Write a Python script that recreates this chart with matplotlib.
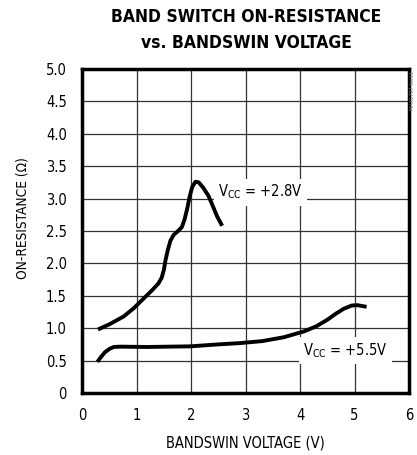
import matplotlib
matplotlib.use('Agg')
import matplotlib.pyplot as plt
from matplotlib import font_manager

names = set(f.name for f in font_manager.fontManager.ttflist)
if 'Liberation Sans Narrow' in names:
    plt.rcParams['font.family'] = ['Liberation Sans Narrow', 'DejaVu Sans']
else:
    plt.rcParams['font.family'] = ['DejaVu Sans']
    plt.rcParams['font.stretch'] = 'condensed'

# VCC = +2.8V curve
v_28 = [0.29, 0.50, 0.76, 0.95, 1.07, 1.18, 1.30, 1.40, 1.46, 1.50, 1.53, 1.57, 1.62, 1.68, 1.76, 1.83,
        1.88, 1.93, 1.97, 2.02, 2.08, 2.14, 2.22, 2.32, 2.40, 2.48, 2.57]
r_28 = [0.98, 1.06, 1.18, 1.31, 1.41, 1.50, 1.60, 1.69, 1.78, 1.90, 2.05, 2.20, 2.35, 2.44, 2.50, 2.56,
        2.68, 2.85, 3.02, 3.18, 3.26, 3.25, 3.17, 3.04, 2.88, 2.72, 2.58]

# VCC = +5.5V curve
v_55 = [0.28, 0.35, 0.42, 0.50, 0.58, 0.70, 1.19, 1.99, 2.50, 2.90, 3.30, 3.70, 4.07, 4.30, 4.50, 4.65,
        4.80, 4.95, 5.05, 5.22]
r_55 = [0.48, 0.56, 0.63, 0.68, 0.71, 0.715, 0.71, 0.72, 0.75, 0.77, 0.80, 0.86, 0.95, 1.03, 1.13, 1.22,
        1.30, 1.35, 1.355, 1.33]

xticks = [0, 1, 2, 3, 4, 5, 6]
yticks = [0, 0.5, 1.0, 1.5, 2.0, 2.5, 3.0, 3.5, 4.0, 4.5, 5.0]
ytick_labels = ['0', '0.5', '1.0', '1.5', '2.0', '2.5', '3.0', '3.5', '4.0', '4.5', '5.0']

fig = plt.figure(figsize=(4.17, 4.55), dpi=100)
ax = fig.add_axes([0.197, 0.1363, 0.784, 0.7121])

ax.plot(v_28, r_28, color='black', lw=2.8, solid_capstyle='butt', solid_joinstyle='round', zorder=4)
ax.plot(v_55, r_55, color='black', lw=2.8, solid_capstyle='butt', solid_joinstyle='round', zorder=4)

ax.set_xlim(0, 6)
ax.set_ylim(0, 5)
ax.set_xticks(xticks)
ax.set_yticks(yticks)
ax.set_yticklabels(ytick_labels)
ax.tick_params(length=0, labelsize=10.5)
ax.tick_params(axis='y', pad=11)
ax.tick_params(axis='x', pad=11)
ax.grid(True, color='#333333', lw=0.9)
ax.set_axisbelow(True)
for s in ax.spines.values():
    s.set_linewidth(2.5)

ax.set_xlabel('BANDSWIN VOLTAGE (V)', fontsize=10.5, labelpad=9)
ax.set_ylabel('ON-RESISTANCE (\u03a9)', fontsize=9.8)
ax.yaxis.set_label_coords(-0.16, 0.54)

box = dict(facecolor='white', edgecolor='none', pad=3)
ax.text(2.5, 3.1, 'V$_{\\mathregular{CC}}$ = +2.8V', fontsize=10.5, ha='left', va='center', bbox=box, zorder=3)
ax.text(4.06, 0.66, 'V$_{\\mathregular{CC}}$ = +5.5V', fontsize=10.5, ha='left', va='center', bbox=box, zorder=3)

fig.text(0.59, 0.962, 'BAND SWITCH ON-RESISTANCE', fontsize=12.5, fontweight='heavy', ha='center', va='center')
fig.text(0.59, 0.906, 'vs. BANDSWIN VOLTAGE', fontsize=12.5, fontweight='heavy', ha='center', va='center')
fig.text(0.99, 0.845, 'MAX1797 toc11', fontsize=4, color='#777777', rotation=90, ha='center', va='top')

fig.savefig('out.png', dpi=100)
